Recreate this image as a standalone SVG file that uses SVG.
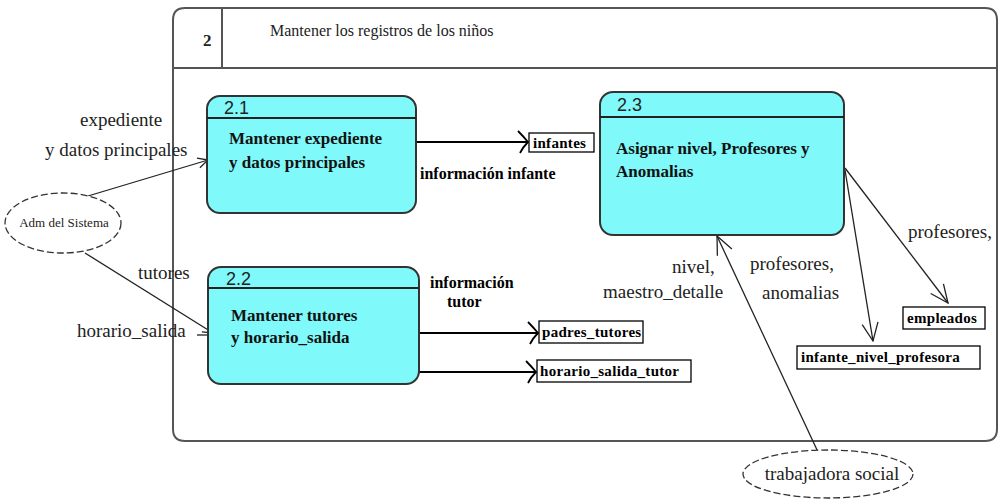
<svg xmlns="http://www.w3.org/2000/svg" width="1000" height="500" viewBox="0 0 1000 500">
<defs>
<marker id="arr" viewBox="0 0 12 12" refX="11" refY="6" markerWidth="12" markerHeight="12" markerUnits="userSpaceOnUse" orient="auto">
<path d="M1,1 L11,6 L1,11" fill="none" stroke="#222" stroke-width="1.3"/>
</marker>
<marker id="arrB" viewBox="0 0 12 24" refX="11" refY="12" markerWidth="12" markerHeight="24" markerUnits="userSpaceOnUse" orient="auto">
<path d="M1,1 Q6,6 11,12 Q6,17 3,23" fill="none" stroke="#000" stroke-width="1.8"/>
</marker>
<marker id="arrL" viewBox="0 0 20 20" refX="19" refY="10" markerWidth="20" markerHeight="20" markerUnits="userSpaceOnUse" orient="auto">
<path d="M1,2 L19,10 L1,18" fill="none" stroke="#222" stroke-width="1.3"/>
</marker>
</defs>
<style>
text{font-family:"Liberation Serif","DejaVu Serif","Times New Roman",serif}
.frame{fill:none;stroke:#555;stroke-width:2}
.proc{fill:#7ff9f9;stroke:#333;stroke-width:2}
.sep{stroke:#222;stroke-width:2}
.num{font-family:"Liberation Sans","DejaVu Sans",Arial,sans-serif;font-size:18px;fill:#222}
.ptxt{font-size:17px;font-weight:bold;fill:#111}
.store{fill:#fff;stroke:#000;stroke-width:1.3}
.stxt{font-size:15px;font-weight:bold;fill:#000;letter-spacing:0.3px}
.lbl{font-size:19px;fill:#222}
.blbl{font-size:16px;font-weight:bold;fill:#000}
.ext{fill:#fff;stroke:#333;stroke-width:1.3;stroke-dasharray:7 3}
.flow{fill:none;stroke:#222;stroke-width:1.3}
.bflow{fill:none;stroke:#000;stroke-width:2.2}
</style>
<rect width="1000" height="500" fill="#fff"/>
<g id="frame">
<path class="frame" d="M185,8 L985,8 Q997,8 997,20 L997,429 Q997,441 985,441 L185,441 Q173,441 173,429 L173,20 Q173,8 185,8 Z"/>
<line class="frame" x1="173" y1="68" x2="997" y2="68"/>
<line class="frame" x1="222" y1="8" x2="222" y2="68"/>
<text x="203" y="46" font-size="17" font-weight="bold" fill="#222">2</text>
<text x="270" y="36" font-size="16" fill="#222">Mantener los registros de los niños</text>
</g>
<g id="connectors">
<line class="flow" x1="88" y1="196" x2="208" y2="160" marker-end="url(#arr)"/>
<line class="flow" x1="85" y1="253" x2="213" y2="333" marker-end="url(#arr)"/>
<line class="flow" x1="197" y1="335" x2="208" y2="335"/>
<line class="bflow" x1="416" y1="142" x2="528" y2="142" marker-end="url(#arrB)"/>
<line class="bflow" x1="419" y1="333" x2="538" y2="333" marker-end="url(#arrB)"/>
<line class="bflow" x1="419" y1="372" x2="536" y2="372" marker-end="url(#arrB)"/>
<line class="flow" x1="845" y1="168" x2="948" y2="303" marker-end="url(#arrL)"/>
<line class="flow" x1="845" y1="170" x2="873" y2="341" marker-end="url(#arrL)"/>
<line class="flow" x1="818" y1="452" x2="717" y2="236" marker-end="url(#arrL)"/>
</g>
<g id="p21">
<rect class="proc" x="207" y="96" width="209" height="117" rx="13"/>
<line class="sep" x1="207" y1="118" x2="416" y2="118"/>
<text class="num" x="224" y="114">2.1</text>
<text class="ptxt" x="229" y="144">Mantener expediente</text>
<text class="ptxt" x="229" y="168">y datos principales</text>
</g>
<g id="p22">
<rect class="proc" x="208" y="267" width="211" height="117" rx="13"/>
<line class="sep" x1="208" y1="288" x2="419" y2="288"/>
<text class="num" x="226" y="285">2.2</text>
<text class="ptxt" x="231" y="321">Mantener tutores</text>
<text class="ptxt" x="231" y="343">y horario_salida</text>
</g>
<g id="p23">
<rect class="proc" x="600" y="92" width="244" height="143" rx="13"/>
<line class="sep" x1="600" y1="117" x2="844" y2="117"/>
<text class="num" x="617" y="111">2.3</text>
<text class="ptxt" x="616" y="154">Asignar nivel, Profesores y</text>
<text class="ptxt" x="616" y="177">Anomalias</text>
</g>
<g id="infantes">
<rect class="store" x="529" y="133" width="65" height="19"/>
<text class="stxt" x="533" y="148">infantes</text>
</g>
<g id="padres_tutores">
<rect class="store" x="539" y="321" width="104" height="22"/>
<text class="stxt" x="542" y="337">padres_tutores</text>
</g>
<g id="horario_salida_tutor">
<rect class="store" x="537" y="360" width="154" height="22"/>
<text class="stxt" x="540" y="376">horario_salida_tutor</text>
</g>
<g id="empleados">
<rect class="store" x="903" y="307" width="82" height="22"/>
<text class="stxt" x="907" y="323">empleados</text>
</g>
<g id="infante_nivel_profesora">
<rect class="store" x="797" y="346" width="183" height="23"/>
<text class="stxt" x="801" y="362">infante_nivel_profesora</text>
</g>
<g id="adm">
<ellipse class="ext" cx="63" cy="223" rx="58" ry="30"/>
<text x="64" y="227" text-anchor="middle" font-size="13" fill="#222">Adm del Sistema</text>
</g>
<g id="trabajadora">
<ellipse class="ext" cx="828" cy="474" rx="85" ry="24"/>
<text x="832" y="480" text-anchor="middle" font-size="19" fill="#222">trabajadora social</text>
</g>
<g id="labels">
<text class="lbl" x="80" y="126">expediente</text>
<text class="lbl" x="45" y="156">y datos principales</text>
<text class="lbl" x="138" y="279">tutores</text>
<text class="lbl" x="77" y="337">horario_salida</text>
<text class="blbl" x="420" y="179">información infante</text>
<text class="blbl" x="430" y="288">información</text>
<text class="blbl" x="447" y="307">tutor</text>
<text class="lbl" x="908" y="238">profesores,</text>
<text class="lbl" x="672" y="273">nivel,</text>
<text class="lbl" x="603" y="298">maestro_detalle</text>
<text class="lbl" x="750" y="270">profesores,</text>
<text class="lbl" x="762" y="299">anomalias</text>
</g>
</svg>
